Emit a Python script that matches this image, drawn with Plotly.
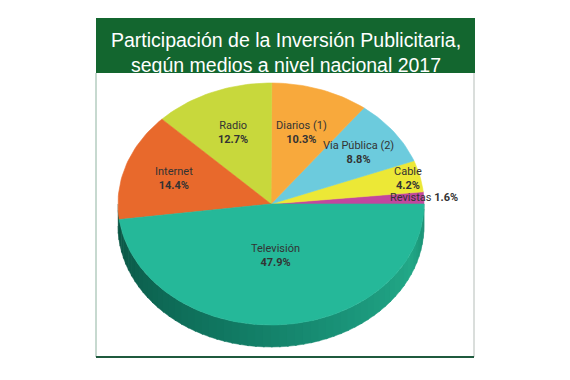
import numpy as np
import plotly.graph_objects as go

# ---- data ----
categories = ["Revistas", "Cable", "Via Pública (2)", "Diarios (1)", "Radio", "Internet", "Televisión"]
values = [1.6, 4.2, 8.8, 10.3, 12.7, 14.4, 47.9]
pct_labels = ["1.6%", "4.2%", "8.8%", "10.3%", "12.7%", "14.4%", "47.9%"]

# ---- style ----
colors = ["#c2479f", "#ece836", "#6ccbdd", "#f8a93c", "#c8d83c", "#e8692c", "#25b899"]
label_r = [1.0, 0.92, 0.71, 0.62, 0.64, 0.67, 0.43]
W, H = 570, 380
OFF = 8  # page body margin compensation
cx, cy, rx, ry, depth = 271, 204, 153, 121, 22
title_green = "#13662f"
label_font = "Roboto, Arial, sans-serif"

fig = go.Figure()

# angles (degrees, counter-clockwise from the right) derived from values
total = sum(values)
bounds = np.concatenate([[0], np.cumsum(values) / total * 360.0])


def ell(t_deg, dy=0.0):
    t = np.radians(t_deg)
    return cx + rx * np.cos(t), cy - ry * np.sin(t) + dy


def mix(c1, c2, f):
    a = [int(c1[i:i + 2], 16) for i in (1, 3, 5)]
    b = [int(c2[i:i + 2], 16) for i in (1, 3, 5)]
    return "rgb(%d,%d,%d)" % tuple(round(a[k] + (b[k] - a[k]) * f) for k in range(3))


stops = [(180, "#0a5242"), (250, "#107660"), (300, "#1a9479"), (335, "#22a887"), (360, "#168a6e")]


def wall_color(t):
    for (t0, c0), (t1, c1) in zip(stops[:-1], stops[1:]):
        if t0 <= t <= t1:
            return mix(c0, c1, (t - t0) / (t1 - t0))
    return stops[-1][1]


# side wall (front half) with shading strips
n_strips = 60
edges = np.linspace(180, 360, n_strips + 1)
for a0, a1 in zip(edges[:-1], edges[1:]):
    ts = np.linspace(a0, a1 + 0.6 if a1 < 360 else a1, 6)
    xt, yt = ell(ts)
    xb, yb = ell(ts[::-1], depth)
    col = wall_color((a0 + a1) / 2)
    fig.add_trace(go.Scatter(
        x=np.concatenate([xt, xb]), y=np.concatenate([yt, yb]),
        fill="toself", fillcolor=col, mode="lines",
        line=dict(color=col, width=0.5), hoverinfo="skip", showlegend=False))

# top surface slices
for i, name in enumerate(categories):
    a0, a1 = bounds[i], bounds[i + 1]
    ts = np.linspace(a0, a1, max(4, int((a1 - a0) / 1.5)))
    xs, ys = ell(ts)
    fig.add_trace(go.Scatter(
        x=np.concatenate([[cx], xs, [cx]]), y=np.concatenate([[cy], ys, [cy]]),
        fill="toself", fillcolor=colors[i], mode="lines",
        line=dict(color=colors[i], width=0.6),
        name=name, text=f"{name}: {pct_labels[i]}", hoverinfo="text", showlegend=False))

# labels
for i, name in enumerate(categories):
    mid = np.radians((bounds[i] + bounds[i + 1]) / 2)
    lx = cx + rx * label_r[i] * np.cos(mid)
    ly = cy - ry * label_r[i] * np.sin(mid)
    if name == "Revistas":
        txt = f"{name} <b>{pct_labels[i]}</b>"
    else:
        txt = f"{name}<br><b>{pct_labels[i]}</b>"
    fig.add_annotation(x=lx, y=ly, text=txt, showarrow=False, xref="x", yref="y",
                       font=dict(family=label_font, size=11, color="#333333"),
                       align="center")

# panel border and title box
fig.add_shape(type="line", x0=96, x1=96, y0=73, y1=357, xref="x", yref="y",
              line=dict(color="#8fb3a0", width=1), layer="below")
fig.add_shape(type="line", x0=474, x1=474, y0=73, y1=357, xref="x", yref="y",
              line=dict(color="#b5bdb8", width=1), layer="below")
fig.add_shape(type="line", x0=96, x1=474, y0=357, y1=357, xref="x", yref="y",
              line=dict(color="#1f5a3e", width=2), layer="below")
fig.add_shape(type="rect", x0=96, x1=475, y0=18, y1=73, xref="x", yref="y",
              fillcolor=title_green, line=dict(width=0), layer="below")
fig.add_annotation(x=285.5, y=52.5, xref="x", yref="y", showarrow=False,
                   text="Participación de la Inversión Publicitaria,<br>según medios a nivel nacional 2017",
                   font=dict(family="Liberation Sans, Arial, sans-serif", size=19.5, color="white"),
                   align="center")

fig.update_layout(
    width=W, height=H, margin=dict(l=0, r=0, t=0, b=0),
    paper_bgcolor="white", plot_bgcolor="white",
    xaxis=dict(range=[OFF, W + OFF], visible=False, fixedrange=True),
    yaxis=dict(range=[H + OFF, OFF], visible=False, fixedrange=True),
    showlegend=False,
)

fig.write_html("out.html")
